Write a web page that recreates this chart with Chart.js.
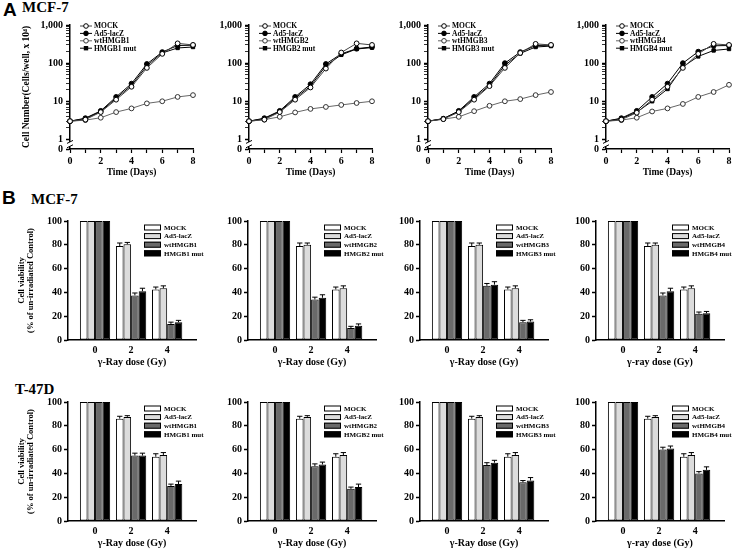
<!DOCTYPE html>
<html>
<head>
<meta charset="utf-8">
<script src="https://cdn.jsdelivr.net/npm/chart.js@4.4.0/dist/chart.umd.min.js"></script>
<style>
body { margin: 0; background: #fff; }
#fig { position: relative; width: 740px; height: 550px; overflow: hidden; font-family: 'Liberation Serif', 'Times New Roman', serif; font-weight: bold; }
#fig canvas { position: absolute; }
.lbl { position: absolute; line-height: 1; white-space: nowrap; }
.big { font-family: 'Liberation Sans', Arial, sans-serif; font-size: 19px; }
.cell { font-size: 15px; }
</style>
</head>
<body>
<div id="fig">
  <div class="lbl big" style="left:3px;top:0px">A</div>
  <div class="lbl cell" style="left:22px;top:0px">MCF-7</div>
  <div class="lbl big" style="left:2px;top:188px">B</div>
  <div class="lbl cell" style="left:31px;top:192px">MCF-7</div>
  <div class="lbl cell" style="left:15px;top:382px">T-47D</div>
</div>
<script>
// ---- data ----
const days = [0, 1, 2, 3, 4, 5, 6, 7, 8];
const groupNames = ['MOCK', 'Ad5-lacZ', 'wt', 'mut'];
const genes = ['HMGB1', 'HMGB2', 'HMGB3', 'HMGB4'];

// cell number (cells/well x 10^4): [MOCK, Ad5-lacZ, wtHMGB, HMGB mut]
const growthHMGB1 = [
  [3, 3.3, 5.2, 11, 24, 75, 175, 330, 300],
  [3, 3.6, 5.6, 13, 29, 95, 195, 290, 295],
  [3, 3.2, 3.7, 5.2, 6.5, 8.8, 10, 13, 14.5],
  [3, 3.5, 5.4, 12, 26, 85, 185, 250, 265]
];
const growthHMGB2 = [
  [3, 3.3, 5.2, 11, 23, 72, 190, 330, 300],
  [3, 3.6, 5.6, 13, 28, 95, 175, 240, 265],
  [3, 3.3, 3.9, 5.1, 6.3, 7.1, 8, 9, 10],
  [3, 3.5, 5.4, 12, 25, 85, 165, 235, 255]
];
const growthHMGB3 = [
  [3, 3.4, 5.2, 11, 25, 75, 185, 320, 300],
  [3, 3.5, 5.6, 13, 29, 100, 195, 290, 295],
  [3, 3.4, 3.9, 5.5, 7.6, 10, 11.4, 14.5, 17.5],
  [3, 3.5, 5.4, 12, 26, 88, 180, 265, 280]
];
const growthHMGB4 = [
  [3, 3.3, 5, 11, 24, 75, 175, 320, 300],
  [3, 3.6, 5.6, 13, 29, 100, 200, 285, 290],
  [3, 3.2, 3.7, 5.4, 6.5, 8.5, 13, 17.5, 27],
  [3, 3.5, 5.2, 10, 21, 80, 150, 215, 235]
];
const growthTicks = [0.56, 1, 10, 100, 1000];
const growthTickLabels = ['0', '1', '10', '100', '1,000'];

// cell viability (% of un-irradiated control) at 0, 2, 4 Gy
const doses = [0, 2, 4];
const mcfHMGB1 = [[100, 79, 42.5], [100, 80.5, 43.5], [100, 37.5, 13.5], [100, 41, 15]];
const mcfHMGB2 = [[100, 79, 42.5], [100, 80, 43.5], [100, 34, 10], [100, 35.5, 12]];
const mcfHMGB3 = [[100, 79, 42.5], [100, 80, 43.5], [100, 45.5, 15], [100, 46.5, 15.5]];
const mcfHMGB4 = [[100, 79, 42.5], [100, 80, 43.5], [100, 37.5, 22], [100, 41, 22.5]];
const t47HMGB1 = [[100, 86, 54], [100, 87.5, 55.5], [100, 55, 29.5], [100, 55, 31]];
const t47HMGB2 = [[100, 86, 54], [100, 87.5, 55.5], [100, 46, 27], [100, 47.5, 28.5]];
const t47HMGB3 = [[100, 86, 54], [100, 87.5, 55.5], [100, 47, 32.5], [100, 49, 34]];
const t47HMGB4 = [[100, 86, 54], [100, 87.5, 55.5], [100, 60, 40], [100, 61, 43]];
const mcfErr = [[0, 2.5, 2], [0, 1.5, 2], [0, 2, 1.5], [0, 2.5, 1.5]];
const t47Err = [[0, 2, 2.5], [0, 1, 2], [0, 2, 1.5], [0, 2, 2.5]];

// ---- setup ----
const fig = document.getElementById('fig');
Chart.defaults.font.family = "'Liberation Serif', 'Times New Roman', serif";
Chart.defaults.font.weight = 'bold';
Chart.defaults.font.size = 10;
Chart.defaults.color = '#000';
Chart.defaults.animation = false;
Chart.defaults.plugins.legend.display = false;
Chart.defaults.plugins.tooltip.enabled = false;

function addCanvas(left, top, width, height) {
  const c = document.createElement('canvas');
  c.width = width; c.height = height;
  c.style.left = left + 'px'; c.style.top = top + 'px';
  c.style.width = width + 'px'; c.style.height = height + 'px';
  fig.appendChild(c);
  return c;
}

function legendLabel(k, gene) {
  if (k === 0) return 'MOCK';
  if (k === 1) return 'Ad5-lacZ';
  if (k === 2) return 'wt' + gene;
  return gene + ' mut';
}

// axis break between 0 and 1 on the log axis
const breakMark = {
  id: 'breakMark',
  afterDraw(chart) {
    const { ctx, chartArea } = chart;
    const y = chart.scales.y;
    const x = chartArea.left;
    const yA = y.getPixelForValue(0.86), yB = y.getPixelForValue(0.66);
    ctx.save();
    ctx.fillStyle = '#fff';
    ctx.fillRect(x - 2, yA, 4, yB - yA);
    ctx.strokeStyle = '#000';
    ctx.lineWidth = 1;
    [yA, yB].forEach(yy => {
      ctx.beginPath();
      ctx.moveTo(x - 3, yy + 1.5);
      ctx.lineTo(x + 3, yy - 1.5);
      ctx.stroke();
    });
    ctx.restore();
  }
};

const lineLegend = {
  id: 'lineLegend',
  afterDraw(chart) {
    const { ctx, chartArea } = chart;
    ctx.save();
    ctx.font = "bold 7.5px 'Liberation Serif', serif";
    ctx.textBaseline = 'middle';
    chart.data.datasets.forEach((ds, k) => {
      const y = chartArea.top + 1 + k * 7.4;
      const x0 = chartArea.left + 10;
      ctx.strokeStyle = ds.borderColor;
      ctx.lineWidth = 1;
      ctx.beginPath(); ctx.moveTo(x0, y); ctx.lineTo(x0 + 12, y); ctx.stroke();
      ctx.fillStyle = ds.pointBackgroundColor;
      ctx.strokeStyle = ds.pointBorderColor;
      if (ds.pointStyle === 'rect') {
        ctx.fillRect(x0 + 3.8, y - 2.2, 4.4, 4.4);
      } else {
        ctx.beginPath(); ctx.arc(x0 + 6, y, 2.3, 0, Math.PI * 2); ctx.fill(); ctx.stroke();
      }
      ctx.fillStyle = '#000';
      ctx.fillText(ds.label, x0 + 14, y + 0.5);
    });
    ctx.restore();
  }
};

const barLegend = {
  id: 'barLegend',
  afterDraw(chart) {
    const { ctx, chartArea } = chart;
    ctx.save();
    ctx.font = "bold 7px 'Liberation Serif', serif";
    ctx.textBaseline = 'middle';
    chart.data.datasets.forEach((ds, k) => {
      const y = chartArea.top + 6.5 + k * 8.6;
      const x0 = chartArea.left + 76;
      ctx.fillStyle = ds.backgroundColor;
      ctx.fillRect(x0, y - 3, 17, 6);
      ctx.strokeStyle = '#000';
      ctx.lineWidth = 1;
      ctx.strokeRect(x0 + 0.5, y - 2.5, 16, 5);
      ctx.fillStyle = '#000';
      ctx.fillText(ds.label, x0 + 20, y + 0.5);
    });
    ctx.restore();
  }
};

function errorBars(errs) {
  return {
    id: 'errorBars',
    afterDatasetsDraw(chart) {
      const { ctx } = chart;
      const yScale = chart.scales.y;
      ctx.save();
      ctx.strokeStyle = '#000';
      ctx.lineWidth = 1;
      chart.data.datasets.forEach((ds, d) => {
        chart.getDatasetMeta(d).data.forEach((bar, i) => {
          const err = errs[d][i];
          if (!err) return;
          const top = yScale.getPixelForValue(ds.data[i].y + err);
          const half = bar.width * 0.35;
          ctx.beginPath();
          ctx.moveTo(bar.x, bar.y);
          ctx.lineTo(bar.x, top);
          ctx.moveTo(bar.x - half, top);
          ctx.lineTo(bar.x + half, top);
          ctx.stroke();
        });
      });
      ctx.restore();
    }
  };
}

// ---- row A: growth curves ----
const lineAxisX = [70, 249, 428, 606];
const lineColors = ['#444', '#000', '#666', '#000'];
const pointFills = ['#fff', '#000', '#fff', '#000'];
const minorTicks = [];
[1, 10, 100].forEach(dec => { for (let m = 2; m <= 9; m++) minorTicks.push(dec * m); });

[growthHMGB1, growthHMGB2, growthHMGB3, growthHMGB4].forEach((growth, p) => {
  const yW = p === 0 ? 70 : 40;
  const cv = addCanvas(lineAxisX[p] - yW, 16, yW + 123 + 8, 8 + 125 + 32);
  new Chart(cv, {
    type: 'line',
    data: {
      datasets: growth.map((vals, k) => ({
        label: legendLabel(k, genes[p]),
        data: days.map((d, i) => ({ x: d, y: vals[i] })),
        borderColor: lineColors[k],
        borderWidth: 1,
        pointStyle: k === 3 ? 'rect' : 'circle',
        pointRadius: 2.4,
        pointBackgroundColor: pointFills[k],
        pointBorderColor: k === 2 ? '#333' : '#000',
        pointBorderWidth: 1,
        clip: false
      }))
    },
    options: {
      responsive: false,
      layout: { padding: { top: 8, right: 8, left: 0, bottom: 0 } },
      scales: {
        x: {
          type: 'linear', min: 0, max: 8,
          afterFit(s) { s.height = 32; },
          ticks: { stepSize: 1, autoSkip: false, maxRotation: 0, padding: 2,
                   callback: v => (v % 2 === 0 ? String(v) : '') },
          grid: { drawOnChartArea: false, tickLength: 4, color: '#000', tickWidth: 1.2 },
          border: { color: '#000', width: 1.5 },
          title: { display: true, text: 'Time (Days)', font: { size: 9.5 }, padding: { top: 0, bottom: 3 } }
        },
        y: {
          type: 'logarithmic', min: growthTicks[0], max: 1000,
          afterFit(s) { s.width = yW; },
          afterBuildTicks(s) {
            s.ticks = growthTicks.concat(minorTicks).sort((a, b) => a - b).map(v => ({ value: v }));
          },
          ticks: {
            autoSkip: false, padding: 3,
            callback: v => {
              const i = growthTicks.indexOf(v);
              return i >= 0 ? growthTickLabels[i] : '';
            }
          },
          grid: {
            drawOnChartArea: false, tickLength: 4, color: '#000',
            tickWidth: c => (c.tick && growthTicks.includes(c.tick.value) ? 1.5 : 0.8)
          },
          border: { color: '#000', width: 1.5 },
          title: {
            display: p === 0, text: 'Cell Number(Cells/well, x 10\u2074)',
            font: { size: 9.5 }, padding: { top: 21, bottom: 0 }
          }
        }
      }
    },
    plugins: [breakMark, lineLegend]
  });
});

// ---- row B: viability bars ----
const barAxisX = [68, 248, 420, 596];
const barRowTop = [221, 402];
const barColors = ['#ffffff', '#dcdcdc', '#6a6a6a', '#000000'];
const barRows = [
  { panels: [mcfHMGB1, mcfHMGB2, mcfHMGB3, mcfHMGB4], errs: mcfErr },
  { panels: [t47HMGB1, t47HMGB2, t47HMGB3, t47HMGB4], errs: t47Err }
];

barRows.forEach((row, r) => {
  row.panels.forEach((viab, p) => {
    const yW = p === 0 ? 68 : 36;
    const cv = addCanvas(barAxisX[p] - yW, barRowTop[r] - 8, yW + 128 + 14, 8 + 119 + 30);
    new Chart(cv, {
      type: 'bar',
      data: {
        datasets: viab.map((vals, k) => ({
          label: legendLabel(k, genes[p]),
          data: doses.map((d, i) => ({ x: d, y: vals[i] })),
          backgroundColor: barColors[k],
          borderColor: '#000',
          borderWidth: 1,
          borderSkipped: false,
          categoryPercentage: 0.84,
          barPercentage: 1
        }))
      },
      options: {
        responsive: false,
        layout: { padding: { top: 8, right: 14, left: 0, bottom: 0 } },
        scales: {
          x: {
            type: 'linear', min: -1.5, max: 5.6, offset: false,
            afterFit(s) { s.height = 30; },
            afterBuildTicks(s) { s.ticks = doses.map(v => ({ value: v })); },
            ticks: { autoSkip: false, maxRotation: 0, padding: 4, callback: v => String(v) },
            grid: { display: false, drawTicks: false, tickLength: 0 },
            border: { color: '#000', width: 1.5 },
            title: {
              display: true,
              text: p === 3 ? '\u03b3-ray dose (Gy)' : '\u03b3-Ray dose (Gy)',
              font: { size: 10 }, padding: { top: 0, bottom: 2 }
            }
          },
          y: {
            min: 0, max: 100,
            afterFit(s) { s.width = yW; },
            ticks: { stepSize: 20, padding: 2 },
            grid: { drawOnChartArea: false, tickLength: 4, color: '#000', tickWidth: 1.5 },
            border: { color: '#000', width: 1.5 },
            title: {
              display: p === 0,
              text: ['Cell viability', '(% of un-irradiated Control)'],
              font: { size: 8.5, lineHeight: 1.1 }, padding: { top: 17, bottom: 0 }
            }
          }
        }
      },
      plugins: [errorBars(row.errs), barLegend]
    });
  });
});
</script>
</body>
</html>
